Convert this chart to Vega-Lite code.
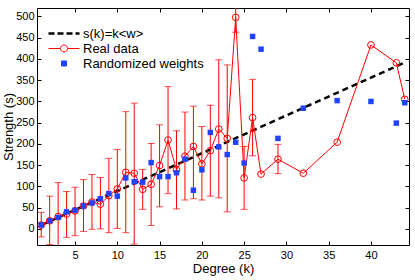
{
  "$schema": "https://vega.github.io/schema/vega-lite/v6.json",
  "width": 372,
  "height": 237,
  "autosize": {"type": "none"},
  "padding": {"left": 37, "top": 8, "right": 6, "bottom": 35},
  "background": "white",
  "config": {
    "view": {"stroke": null},
    "font": "Liberation Sans",
    "axis": {
      "grid": false,
      "domainColor": "#000000",
      "domainWidth": 1,
      "tickColor": "#000000",
      "tickWidth": 1,
      "tickSize": -4,
      "labelColor": "#000000",
      "labelFont": "Liberation Sans",
      "labelFontSize": 11,
      "titleFont": "Liberation Sans",
      "titleFontSize": 13,
      "titleFontWeight": "normal",
      "titleColor": "#000000"
    }
  },
  "datasets": {
    "ref": [
      {"k": 1, "s": 8.9, "series": "s(k)=k<w>"},
      {"k": 44, "s": 391.6, "series": "s(k)=k<w>"}
    ],
    "real": [
      {"k": 1, "s": 9, "lo": -19, "hi": 39},
      {"k": 2, "s": 19, "lo": -37, "hi": 77},
      {"k": 3, "s": 29, "lo": -45, "hi": 109},
      {"k": 4, "s": 35, "lo": -20, "hi": 88},
      {"k": 5, "s": 42, "lo": -16, "hi": 98},
      {"k": 6, "s": 54, "lo": -6, "hi": 116},
      {"k": 7, "s": 63, "lo": -1, "hi": 128},
      {"k": 8, "s": 58, "lo": 0, "hi": 121},
      {"k": 9, "s": 78, "lo": -9, "hi": 166},
      {"k": 10, "s": 94, "lo": 1, "hi": 187},
      {"k": 11, "s": 133, "lo": -9, "hi": 276},
      {"k": 12, "s": 131, "lo": -36, "hi": 296},
      {"k": 13, "s": 93, "lo": 46, "hi": 140},
      {"k": 14, "s": 105, "lo": 8, "hi": 201},
      {"k": 15, "s": 149, "lo": 52, "hi": 245},
      {"k": 16, "s": 209, "lo": 83, "hi": 335},
      {"k": 17, "s": 139, "lo": 47, "hi": 231},
      {"k": 18, "s": 171, "lo": 68, "hi": 275},
      {"k": 19, "s": 194, "lo": 71, "hi": 289},
      {"k": 20, "s": 153, "lo": 68, "hi": 241},
      {"k": 21, "s": 184, "lo": 77, "hi": 291},
      {"k": 22, "s": 235, "lo": 73, "hi": 398},
      {"k": 23, "s": 213, "lo": 40, "hi": 386},
      {"k": 24, "s": 498, "lo": 463, "hi": 560},
      {"k": 25, "s": 120, "lo": 46, "hi": 194},
      {"k": 26, "s": 262, "lo": 172, "hi": 352},
      {"k": 27, "s": 129},
      {"k": 29, "s": 164, "lo": 130, "hi": 199},
      {"k": 32, "s": 131},
      {"k": 36, "s": 204},
      {"k": 40, "s": 433},
      {"k": 43, "s": 391},
      {"k": 44, "s": 305}
    ],
    "rand": [
      {"k": 1, "s": 9}, {"k": 2, "s": 19}, {"k": 3, "s": 27}, {"k": 4, "s": 40},
      {"k": 5, "s": 44}, {"k": 6, "s": 54}, {"k": 7, "s": 61}, {"k": 8, "s": 71},
      {"k": 9, "s": 83}, {"k": 10, "s": 77}, {"k": 11, "s": 120}, {"k": 12, "s": 111},
      {"k": 13, "s": 110}, {"k": 14, "s": 156}, {"k": 15, "s": 123}, {"k": 16, "s": 123},
      {"k": 17, "s": 132}, {"k": 18, "s": 164}, {"k": 19, "s": 91}, {"k": 20, "s": 139},
      {"k": 21, "s": 227}, {"k": 22, "s": 193}, {"k": 23, "s": 175}, {"k": 24, "s": 204},
      {"k": 25, "s": 155}, {"k": 26, "s": 453}, {"k": 27, "s": 423}, {"k": 29, "s": 213},
      {"k": 32, "s": 284}, {"k": 36, "s": 302}, {"k": 40, "s": 300}, {"k": 43, "s": 249},
      {"k": 44, "s": 297}
    ]
  },
  "resolve": {"axis": {"x": "independent", "y": "independent"}},
  "layer": [
    {
      "data": {"name": "ref"},
      "mark": {"type": "line", "strokeDash": [6, 4], "strokeWidth": 2.5, "clip": true},
      "encoding": {
        "x": {"field": "k", "type": "quantitative", "scale": {"domain": [0.5, 44.5], "nice": false, "zero": false},
          "axis": {"orient": "bottom", "values": [5, 10, 15, 20, 25, 30, 35, 40], "title": "Degree (k)", "labelPadding": 8, "titlePadding": 2}},
        "y": {"field": "s", "type": "quantitative", "scale": {"domain": [-38, 520], "nice": false, "zero": false},
          "axis": {"orient": "left", "values": [0, 50, 100, 150, 200, 250, 300, 350, 400, 450, 500], "title": "Strength (s)", "labelPadding": 7, "titlePadding": 0}},
        "color": {
          "field": "series", "type": "nominal",
          "scale": {"domain": ["s(k)=k<w>", "Real data", "Randomized weights"], "range": ["#000000", "#ff0000", "#2142ff"]},
          "legend": {
            "orient": "none", "legendX": 10, "legendY": 19, "title": null,
            "padding": 0, "labelFont": "Liberation Sans", "labelFontSize": 13, "labelColor": "#000000",
            "labelOffset": 23, "symbolSize": 100, "rowPadding": 1,
            "encode": {
              "symbols": {
                "update": {
                  "shape": {"signal": "datum.value === 'Real data' ? 'M-1,0H1.4M2.8,0H5.2M2.8,0A0.7,0.7 0 1 1 1.4,0A0.7,0.7 0 1 1 2.8,0' : datum.value === 'Randomized weights' ? 'M1.6,-0.5H2.6V0.5H1.6Z' : 'M-1,0H0.2M0.8,0H2M2.6,0H3.8M4.4,0H5.2'"},
                  "fill": {"signal": "datum.value === 'Randomized weights' ? '#2142ff' : 'transparent'"},
                  "stroke": {"signal": "datum.value === 'Randomized weights' ? 'transparent' : (datum.value === 'Real data' ? '#ff0000' : '#000000')"},
                  "strokeWidth": {"signal": "datum.value === 's(k)=k<w>' ? 2.5 : 1"},
                  "strokeDash": {"value": []},
                  "opacity": {"value": 1},
                  "fillOpacity": {"value": 1},
                  "strokeOpacity": {"value": 1},
                  "size": {"value": 100}
                }
              }
            }
          }
        }
      }
    },
    {
      "data": {"name": "real"},
      "transform": [{"filter": "isValid(datum.lo)"}],
      "mark": {"type": "rule", "color": "#ff0000", "strokeWidth": 1, "clip": true},
      "encoding": {
        "x": {"field": "k", "type": "quantitative", "axis": null},
        "y": {"field": "lo", "type": "quantitative", "axis": null},
        "y2": {"field": "hi"}
      }
    },
    {
      "data": {"name": "real"},
      "transform": [{"filter": "isValid(datum.lo)"}],
      "mark": {"type": "tick", "orient": "horizontal", "color": "#ff0000", "size": 7, "thickness": 1, "clip": true},
      "encoding": {
        "x": {"field": "k", "type": "quantitative", "axis": null},
        "y": {"field": "lo", "type": "quantitative", "axis": null}
      }
    },
    {
      "data": {"name": "real"},
      "transform": [{"filter": "isValid(datum.hi)"}],
      "mark": {"type": "tick", "orient": "horizontal", "color": "#ff0000", "size": 7, "thickness": 1, "clip": true},
      "encoding": {
        "x": {"field": "k", "type": "quantitative", "axis": null},
        "y": {"field": "hi", "type": "quantitative", "axis": null}
      }
    },
    {
      "data": {"name": "real"},
      "mark": {"type": "line", "color": "#ff0000", "strokeWidth": 1, "clip": true},
      "encoding": {
        "x": {"field": "k", "type": "quantitative", "axis": null},
        "y": {"field": "s", "type": "quantitative", "axis": null}
      }
    },
    {
      "data": {"name": "real"},
      "mark": {"type": "point", "shape": "circle", "filled": false, "color": "#ff0000", "size": 45, "strokeWidth": 1, "opacity": 1, "clip": true},
      "encoding": {
        "x": {"field": "k", "type": "quantitative", "axis": null},
        "y": {"field": "s", "type": "quantitative", "axis": null}
      }
    },
    {
      "data": {"name": "rand"},
      "mark": {"type": "point", "shape": "square", "filled": true, "color": "#2142ff", "size": 30, "opacity": 1, "clip": true},
      "encoding": {
        "x": {"field": "k", "type": "quantitative",
          "axis": {"orient": "top", "values": [5, 10, 15, 20, 25, 30, 35, 40], "labels": false, "title": null}},
        "y": {"field": "s", "type": "quantitative",
          "axis": {"orient": "right", "values": [0, 50, 100, 150, 200, 250, 300, 350, 400, 450, 500], "labels": false, "title": null}}
      }
    }
  ]
}
